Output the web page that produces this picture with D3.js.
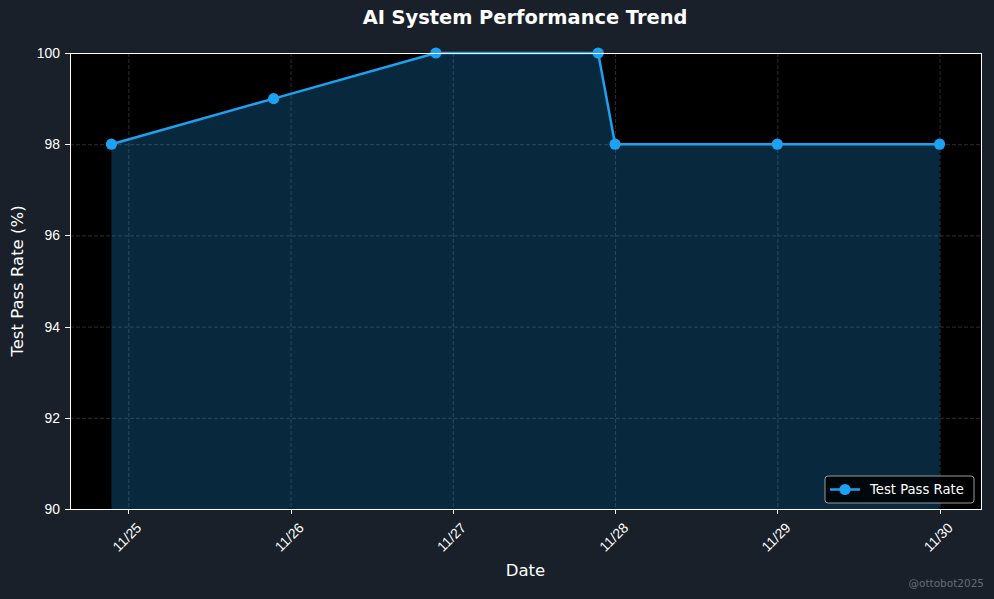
<!DOCTYPE html>
<html lang="en">
<head>
<meta charset="UTF-8">
<title>AI System Performance Trend</title>
<script src="https://d3js.org/d3.v7.min.js"></script>
<style>
  html, body { margin: 0; padding: 0; background: #19202a; }
  svg { display: block; font-family: "DejaVu Sans", sans-serif; }
  .axis path, .axis line { stroke: #ffffff; shape-rendering: crispEdges; }
  .axis text { fill: #ffffff; font-size: 13.9px; }
  .grid line { stroke: #808080; stroke-opacity: 0.35; stroke-dasharray: 4,2; }
  .grid path { stroke-width: 0; }
</style>
</head>
<body>
<div id="chart"></div>
<script>
// data
const timestamps = ["2025-11-24T21:30", "2025-11-25T21:30", "2025-11-26T21:30", "2025-11-27T21:30",
                    "2025-11-28T00:00", "2025-11-29T00:00", "2025-11-30T00:00"];
const passRates = [98, 99, 100, 100, 98, 98, 98];
const yTicks = [90, 92, 94, 96, 98, 100];
const xTickDays = ["2025-11-25", "2025-11-26", "2025-11-27", "2025-11-28", "2025-11-29", "2025-11-30"];

const parseTime = d3.timeParse("%Y-%m-%dT%H:%M");
const parseDay = d3.timeParse("%Y-%m-%d");
const data = timestamps.map((t, i) => ({date: parseTime(t), value: passRates[i]}));

const W = 994, H = 599;
const margin = {top: 53, right: 13, bottom: 90, left: 70};
const width = W - margin.left - margin.right;
const height = H - margin.top - margin.bottom;

const svg = d3.select("#chart").append("svg")
    .attr("width", W).attr("height", H);

svg.append("rect").attr("width", W).attr("height", H).attr("fill", "#19202a");

const g = svg.append("g").attr("transform", `translate(${margin.left},${margin.top})`);

// x domain padded 5% like matplotlib
const ext = d3.extent(data, d => d.date);
const pad = (ext[1] - ext[0]) * 0.05;
const x = d3.scaleTime()
    .domain([new Date(+ext[0] - pad), new Date(+ext[1] + pad)])
    .range([0, width]);
const y = d3.scaleLinear().domain([90, 100]).range([height, 0]);

g.append("rect").attr("width", width).attr("height", height).attr("fill", "#000000");

const xTickDates = xTickDays.map(parseDay);

// grid
g.append("g").attr("class", "grid")
    .call(d3.axisLeft(y).tickValues(yTicks).tickSize(-width).tickFormat(""));
g.append("g").attr("class", "grid")
    .call(d3.axisBottom(x).tickValues(xTickDates).tickSize(height).tickFormat(""));

// area fill
g.append("path").datum(data)
    .attr("fill", "#1da1f2").attr("fill-opacity", 0.25)
    .attr("d", d3.area().x(d => x(d.date)).y0(height).y1(d => y(d.value)));

// line
g.append("path").datum(data)
    .attr("fill", "none").attr("stroke", "#1da1f2").attr("stroke-width", 2.5)
    .attr("d", d3.line().x(d => x(d.date)).y(d => y(d.value)));

g.selectAll(".dot").data(data).enter().append("circle")
    .attr("class", "dot")
    .attr("cx", d => x(d.date)).attr("cy", d => y(d.value))
    .attr("r", 5.6).attr("fill", "#1da1f2");

// frame
g.append("rect").attr("x", 0.5).attr("y", 0.5).attr("width", width).attr("height", height)
    .attr("fill", "none").attr("stroke", "#ffffff").attr("stroke-width", 1)
    .attr("shape-rendering", "crispEdges");

// axes
const yAxis = g.append("g").attr("class", "axis")
    .call(d3.axisLeft(y).tickValues(yTicks).tickSize(5).tickPadding(5));
yAxis.select(".domain").remove();

const xAxis = g.append("g").attr("class", "axis")
    .attr("transform", `translate(0,${height})`)
    .call(d3.axisBottom(x).tickValues(xTickDates).tickSize(5).tickFormat(d3.timeFormat("%m/%d")));
xAxis.select(".domain").remove();
xAxis.selectAll("text")
    .attr("y", 0).attr("dy", 0)
    .attr("text-anchor", "middle")
    .attr("dominant-baseline", "middle")
    .attr("transform", "translate(-1,29) rotate(-45)");

// labels
svg.append("text")
    .attr("x", W / 2 + 28).attr("y", 24)
    .attr("text-anchor", "middle")
    .attr("fill", "#ffffff").attr("font-weight", "bold").attr("font-size", "19.4px")
    .text("AI System Performance Trend");

svg.append("text")
    .attr("x", margin.left + width / 2).attr("y", 576)
    .attr("text-anchor", "middle")
    .attr("fill", "#ffffff").attr("font-size", "16.5px")
    .text("Date");

svg.append("text")
    .attr("transform", `translate(23,${margin.top + height / 2}) rotate(-90)`)
    .attr("text-anchor", "middle")
    .attr("fill", "#ffffff").attr("font-size", "16.5px")
    .text("Test Pass Rate (%)");

// legend
const lg = g.append("g").attr("transform", `translate(${width - 156},${height - 33})`);
lg.append("rect").attr("width", 149).attr("height", 27).attr("rx", 3)
    .attr("fill", "#000000").attr("fill-opacity", 0.8)
    .attr("stroke", "#999999").attr("stroke-width", 1);
lg.append("line").attr("x1", 5).attr("x2", 35).attr("y1", 13.5).attr("y2", 13.5)
    .attr("stroke", "#1da1f2").attr("stroke-width", 2.5);
lg.append("circle").attr("cx", 20).attr("cy", 13.5).attr("r", 5.6).attr("fill", "#1da1f2");
lg.append("text").attr("x", 45).attr("y", 13.5).attr("dominant-baseline", "central")
    .attr("fill", "#ffffff").attr("font-size", "13.2px").text("Test Pass Rate");

// watermark
svg.append("text")
    .attr("x", 984).attr("y", 587).attr("text-anchor", "end")
    .attr("fill", "#666c74").attr("font-size", "10.5px")
    .text("@ottobot2025");
</script>
</body>
</html>
